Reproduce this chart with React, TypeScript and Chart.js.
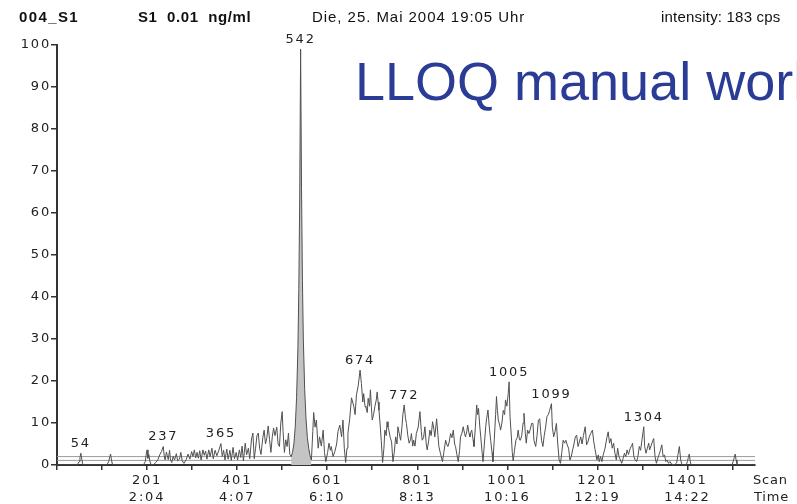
import { useEffect, useRef } from 'react';
import { Chart, registerables } from 'chart.js';

Chart.register(...registerables);

const WIDTH = 797;
const HEIGHT = 504;

// Chromatogram trace: [scan, relative intensity in %]
const earlyTrace: [number, number][] = [
  [1, 0], [46, 0], [50, 0.8], [52, 1.8], [54, 2.8], [56, 1.4], [58, 0.3], [61, 0],
  [112, 0], [116, 0.9], [118, 1.9], [120, 2.6], [122, 1.2], [124, 0.2], [127, 0],
  [193, 0], [197, 0.8], [199, 2.4], [201, 3.6], [203, 1.6], [205, 2.5], [207, 1], [210, 0],
  [215, 0], [220, 0.6], [225, 1.2], [229, 2.4], [233, 3.2], [237, 4.4], [239, 2.2], [241, 1.2],
  [244, 3.1], [246, 2.2], [248, 1.3], [251, 3.5], [253, 1.2], [256, 0.6], [259, 2.1], [262, 1.2],
  [266, 2.7], [269, 1], [273, 1.4], [276, 3], [279, 1], [283, 0.4], [288, 1.3], [292, 2.6],
  [296, 1.4], [300, 3.2], [303, 2], [306, 3.6], [309, 1.7], [312, 3], [315, 1.6], [318, 3.4],
  [321, 1.2], [325, 3.6], [328, 2.3], [331, 3.3], [334, 1.4], [338, 3.6], [341, 2], [345, 4],
  [348, 1.5], [352, 3.5], [356, 2.2], [360, 3.4], [365, 5.1], [368, 2], [371, 3.5], [374, 1.2],
  [378, 3.8], [381, 1.4], [385, 3.5], [388, 1.1], [392, 4.2], [395, 1.5], [399, 3], [402, 1.2],
  [406, 3.6], [409, 1.8], [412, 4.5], [415, 1], [419, 5.2], [422, 2.4], [426, 4], [429, 1.5],
  [433, 6.2], [436, 7.6], [439, 1.5], [442, 4], [445, 7], [448, 7.6], [451, 4], [454, 2.5],
  [458, 6.5], [461, 8.3], [464, 5], [467, 6.5], [470, 9.3], [473, 6], [476, 3], [479, 6.7],
  [482, 8.8], [485, 7], [489, 9], [492, 5], [495, 4.4], [498, 10], [501, 12.7], [503, 8],
  [506, 3], [509, 6], [512, 4.4], [515, 7.6], [518, 2.5],
];

// Shaded analyte peak
const mainPeak: [number, number][] = [
  [521, 2], [524, 3], [527, 5], [530, 9], [533, 16], [536, 28], [538, 42], [540, 64],
  [542, 99], [544, 66], [546, 44], [548, 30], [551, 18], [554, 11], [557, 6.5], [560, 4],
  [563, 2.2], [566, 1.2],
];

const middleTrace: [number, number][] = [
  [569, 8], [571, 12.5], [574, 9], [577, 10.7], [581, 4], [584, 6.7], [588, 4.5], [592, 8.3],
  [595, 3], [598, 0.8], [602, 3], [605, 5.2], [608, 3.5], [610, 4.4], [614, 2], [618, 3.2],
  [622, 5], [625, 8], [629, 9.5], [633, 6.7], [636, 10.7], [639, 4], [642, 0.6], [645, 4],
  [647, 7.5], [651, 11], [655, 16], [660, 14], [663, 12], [666, 16.7], [670, 19], [674, 22.6],
  [677, 19.4], [680, 15], [682, 17], [685, 14], [687, 13.7], [690, 12.5], [692, 15.9], [695, 14],
  [697, 17.9], [699, 14], [701, 10.7], [704, 12], [707, 14], [710, 15.5], [712, 17.4], [714, 15],
  [716, 13], [719, 9], [721, 5.9], [724, 0.6], [727, 4], [729, 8.3], [732, 7], [734, 10.3],
  [736, 9], [738, 8.3], [741, 6.5], [744, 5.5], [747, 0.8], [750, 3], [753, 6.7], [756, 5],
  [758, 9.1], [761, 7.5], [764, 5.9], [767, 9], [769, 12], [772, 14.3], [775, 11], [777, 9.9],
  [780, 7], [783, 5.2], [786, 6], [788, 7.5], [791, 4.5], [793, 5.9], [796, 4.5], [799, 7.5],
  [803, 9], [807, 12.7], [810, 8], [812, 5.9], [815, 6.5], [818, 9.1], [821, 5], [823, 3.6],
  [826, 5.5], [829, 8.3], [832, 7], [835, 10.3], [838, 8.5], [840, 6.7], [844, 11], [847, 7],
  [849, 4.4], [853, 2.5], [857, 0.8], [860, 3], [864, 5.9], [867, 4.8], [869, 4.4], [872, 5.5],
  [875, 7.5], [878, 6.5], [881, 8.3], [884, 5], [886, 4.4], [889, 2.5], [892, 0.8], [895, 3.5],
  [897, 6.7], [900, 7.5], [903, 9.1], [906, 7.5], [908, 6.7], [911, 8], [913, 9.5], [916, 7.5],
  [918, 6.7], [920, 7.8], [922, 8.3], [925, 6], [927, 4.4], [930, 9], [933, 14.3], [935, 12],
  [937, 13.5], [940, 9], [942, 6.7], [945, 3], [947, 0.8], [950, 5], [953, 9.1], [955, 11],
  [958, 13.1], [961, 9], [964, 5.9], [967, 3], [969, 0.8], [972, 6], [975, 12], [977, 16.3],
  [979, 13], [981, 10.7], [984, 9.5], [986, 8.3], [989, 10], [992, 13], [995, 12], [997, 15.5],
  [1000, 14], [1003, 17], [1005, 19.8], [1007, 11.5], [1010, 6.7], [1012, 3], [1014, 1],
  [1017, 3.5], [1020, 5.9], [1023, 6.5], [1025, 8.3], [1028, 6], [1030, 5.9],
];

const lateTrace: [number, number][] = [
  [1033, 7], [1036, 10], [1038, 12.3], [1041, 7.5], [1043, 5.2], [1046, 8.3], [1049, 7.5],
  [1052, 8.5], [1055, 9.9], [1058, 9.9], [1060, 5.9], [1064, 4.4], [1067, 7], [1070, 10.7],
  [1073, 11], [1075, 8], [1077, 5.9], [1080, 4.4], [1083, 7], [1086, 9], [1089, 11.5],
  [1092, 12], [1095, 13], [1099, 14.6], [1101, 9], [1104, 6.7], [1107, 8], [1110, 9.9],
  [1113, 5], [1116, 1.2], [1119, 0.4], [1122, 3], [1125, 5.9], [1128, 5.2], [1131, 5.9],
  [1134, 4.8], [1137, 4], [1140, 1.2], [1143, 2], [1146, 3.6], [1149, 5], [1152, 6.7],
  [1155, 7.1], [1158, 4.4], [1161, 5.5], [1164, 6.7], [1167, 5], [1170, 7], [1174, 9.1],
  [1177, 4.8], [1180, 5.5], [1183, 6.7], [1186, 7.5], [1190, 8.3], [1193, 5.5], [1196, 3.6],
  [1200, 1.2], [1203, 2.4], [1205, 0.8], [1208, 2], [1211, 0.8], [1214, 2.4], [1218, 4],
  [1222, 6.5], [1225, 7.9], [1228, 5.2], [1231, 6.3], [1234, 4], [1237, 5.2], [1240, 2.8],
  [1243, 1.2], [1246, 4], [1249, 2], [1252, 1.2], [1255, 0.4], [1258, 1.5], [1261, 2.8],
  [1264, 2], [1267, 3.6], [1270, 2.5], [1274, 4], [1277, 4.6], [1279, 5.2], [1282, 2],
  [1285, 1.2], [1288, 0.8], [1291, 2], [1294, 4.4], [1297, 3.5], [1300, 6], [1304, 9.1],
  [1306, 4.4], [1309, 2.8], [1312, 4], [1315, 5.2], [1317, 3.6], [1320, 4.5], [1323, 5.5],
  [1326, 6.3], [1329, 2], [1332, 0.4], [1335, 1.5], [1338, 2.5], [1341, 3.5], [1344, 4.8],
  [1347, 2], [1350, 2.4], [1353, 0.8], [1356, 1.2], [1359, 0.4], [1362, 0.8], [1366, 0.2],
  [1372, 0], [1377, 0.5], [1380, 2.5], [1383, 4.4], [1386, 1.2], [1389, 0], [1398, 0],
  [1401, 0.8], [1403, 1.8], [1405, 2.6], [1407, 1], [1409, 0], [1500, 0], [1503, 1],
  [1505, 1.8], [1507, 2.6], [1509, 1.2], [1511, 0.3], [1514, 0], [1551, 0],
];

// Threshold lines near the baseline (%)
const thresholdLevels = [1.1, 2.0];

// Scans whose apex carries a number
const labelledScans = [54, 237, 365, 542, 674, 772, 1005, 1099, 1304];

// Scan axis
const scanMin = 1;
const scanMax = 1551;
const scanTicks = [1, 101, 201, 301, 401, 501, 601, 701, 801, 901, 1001, 1101, 1201, 1301, 1401, 1501];
const scanTickLabels = ['201', '401', '601', '801', '1001', '1201', '1401'];
const timeTickLabels = ['2:04', '4:07', '6:10', '8:13', '10:16', '12:19', '14:22'];

// Intensity axis
const intensityMin = 0;
const intensityMax = 100;
const intensityStep = 10;

const headerItems = [
  { text: '004_S1', left: 19, bold: true, spacing: 1.4 },
  { text: 'S1  0.01  ng/ml', left: 138, bold: true, spacing: 0.6 },
  { text: 'Die, 25. Mai 2004 19:05 Uhr', left: 312, bold: false, spacing: 0.95 },
  { text: 'intensity: 183 cps', left: 661, bold: false, spacing: 0.2 },
];
const watermarkText = 'LLOQ manual work';

const AXIS_COLOR = '#333333';
const TEXT_COLOR = '#222222';
const TICK_FONT = '"DejaVu Sans", sans-serif';

const fullTrace: [number, number][] = [...earlyTrace, ...mainPeak, ...middleTrace, ...lateTrace];

function levelAt(scan: number): number {
  let best = fullTrace[0];
  for (const p of fullTrace) {
    if (Math.abs(p[0] - scan) < Math.abs(best[0] - scan)) best = p;
  }
  return best[1];
}

const toPoints = (pairs: [number, number][]) => pairs.map(([x, y]) => ({ x, y }));

const spacingPlugin = {
  id: 'tickLetterSpacing',
  beforeDraw(chart: any) {
    chart.ctx.letterSpacing = '1.8px';
  },
};

const annotationPlugin = {
  id: 'scanAnnotations',
  afterDraw(chart: any) {
    const { ctx, scales } = chart;
    const xs = scales.x;
    const ys = scales.y;
    ctx.save();
    ctx.fillStyle = TEXT_COLOR;
    ctx.font = `13px ${TICK_FONT}`;
    ctx.letterSpacing = '1.8px';
    ctx.textAlign = 'center';
    ctx.textBaseline = 'middle';
    for (const scan of labelledScans) {
      const px = xs.getPixelForValue(scan);
      const py = ys.getPixelForValue(levelAt(scan));
      ctx.fillText(String(scan), px, py - 9.5);
    }
    // axis captions at the right end of the scan axis
    ctx.letterSpacing = '0.8px';
    ctx.textAlign = 'left';
    const first = xs.top + 5 + 2 + 8.45;
    ctx.fillText('Scan', xs.right - 2, first);
    ctx.fillText('Time', xs.right - 1, first + 16.9);
    ctx.restore();
  },
};

export default function App() {
  const canvasRef = useRef<HTMLCanvasElement | null>(null);

  useEffect(() => {
    const canvas = canvasRef.current;
    if (!canvas) return;

    const chart = new Chart(canvas, {
      type: 'line',
      data: {
        datasets: [
          {
            data: toPoints(fullTrace),
            borderColor: '#505050',
            borderWidth: 1,
            pointRadius: 0,
            tension: 0,
            fill: false,
          },
          {
            data: toPoints(mainPeak),
            borderColor: 'rgba(0,0,0,0)',
            borderWidth: 0,
            backgroundColor: '#c4c4c4',
            pointRadius: 0,
            tension: 0,
            fill: 'origin',
          },
          ...thresholdLevels.map((lvl) => ({
            data: [
              { x: scanMin, y: lvl },
              { x: scanMax, y: lvl },
            ],
            borderColor: '#9a9a9a',
            borderWidth: 1,
            pointRadius: 0,
            fill: false,
          })),
        ],
      },
      options: {
        responsive: false,
        animation: false,
        devicePixelRatio: 1,
        layout: { padding: { top: 45, right: WIDTH - 755, left: 0, bottom: 0 } },
        plugins: {
          legend: { display: false },
          tooltip: { enabled: false },
        },
        events: [],
        scales: {
          x: {
            type: 'linear',
            min: scanMin,
            max: scanMax,
            afterBuildTicks: (scale: any) => {
              scale.ticks = scanTicks.map((value) => ({ value }));
            },
            afterFit: (scale: any) => {
              scale.height = HEIGHT - 465;
            },
            grid: {
              display: true,
              drawOnChartArea: false,
              drawTicks: true,
              tickLength: 5,
              color: AXIS_COLOR,
              lineWidth: 1.5,
            },
            border: { display: true, color: AXIS_COLOR, width: 2 },
            ticks: {
              autoSkip: false,
              maxRotation: 0,
              minRotation: 0,
              padding: 2,
              color: TEXT_COLOR,
              font: { family: TICK_FONT, size: 13, lineHeight: 1.3 },
              callback: (value: any) => {
                const i = scanTickLabels.indexOf(String(value));
                return i >= 0 ? [scanTickLabels[i], timeTickLabels[i]] : '';
              },
            },
          },
          y: {
            type: 'linear',
            min: intensityMin,
            max: intensityMax,
            afterFit: (scale: any) => {
              scale.width = 57;
            },
            grid: {
              display: true,
              drawOnChartArea: false,
              drawTicks: true,
              tickLength: 6,
              color: AXIS_COLOR,
              lineWidth: 1.5,
            },
            border: { display: true, color: AXIS_COLOR, width: 2 },
            ticks: {
              stepSize: intensityStep,
              padding: 0,
              color: TEXT_COLOR,
              font: { family: TICK_FONT, size: 13 },
            },
          },
        },
      },
      plugins: [spacingPlugin, annotationPlugin],
    } as any);

    return () => chart.destroy();
  }, []);

  return (
    <div
      style={{
        position: 'absolute',
        left: 0,
        top: 0,
        width: WIDTH,
        height: HEIGHT,
        overflow: 'hidden',
        background: '#ffffff',
        fontFamily: '"Liberation Sans", Arial, sans-serif',
      }}
    >
      <canvas ref={canvasRef} width={WIDTH} height={HEIGHT} style={{ position: 'absolute', left: 0, top: 0 }} />
      {headerItems.map((h) => (
        <div
          key={h.text}
          style={{
            position: 'absolute',
            left: h.left,
            top: 9.3,
            fontSize: 15,
            lineHeight: '15px',
            fontWeight: h.bold ? 700 : 400,
            letterSpacing: `${h.spacing}px`,
            whiteSpace: 'pre',
            color: '#111111',
          }}
        >
          {h.text}
        </div>
      ))}
      <div
        style={{
          position: 'absolute',
          left: 355,
          top: 54.3,
          fontSize: 54,
          lineHeight: '54px',
          whiteSpace: 'nowrap',
          color: '#2b3c96',
        }}
      >
        {watermarkText}
      </div>
    </div>
  );
}
